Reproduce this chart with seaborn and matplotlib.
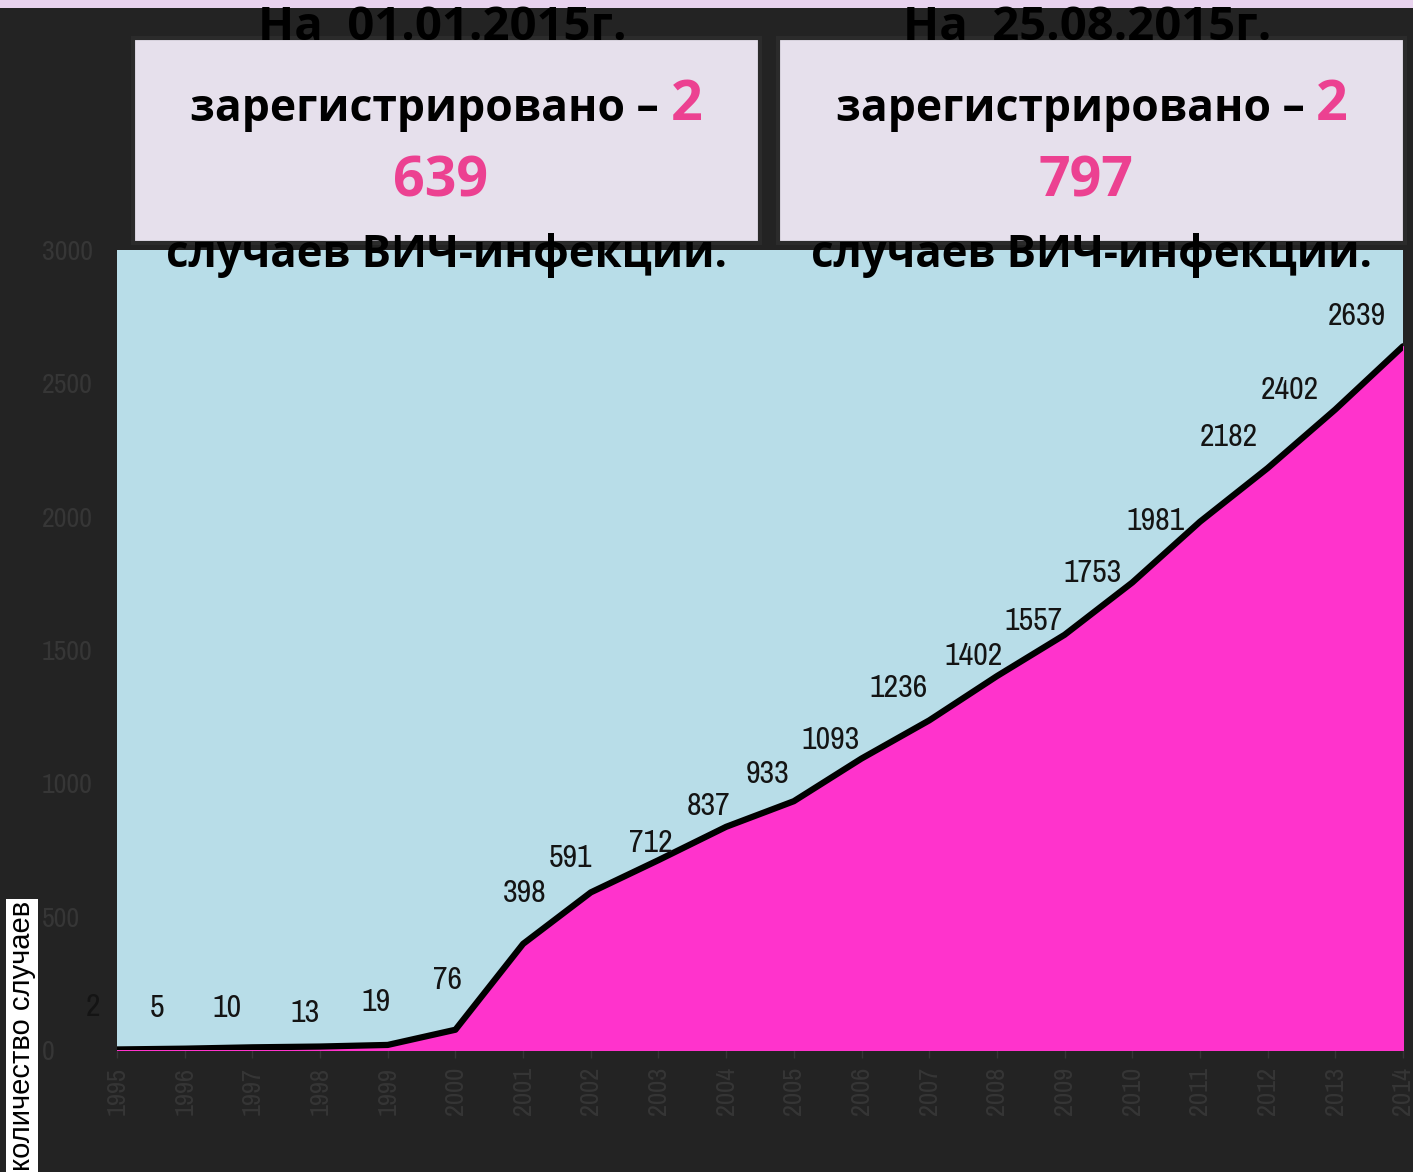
import numpy as np
import pandas as pd
import matplotlib
matplotlib.use("Agg")
import matplotlib.pyplot as plt
from matplotlib import font_manager
from matplotlib.patches import Rectangle
import seaborn as sns

# Data
years = list(range(1995, 2015))
cases = [2, 5, 10, 13, 19, 76, 398, 591, 712, 837, 933, 1093, 1236, 1402,
         1557, 1753, 1981, 2182, 2402, 2639]
y_ticks = [0, 500, 1000, 1500, 2000, 2500, 3000]
y_label = "количество случаев"

box_dates = ["На  01.01.2015г.", "На  25.08.2015г."]
box_totals = ["2 639", "2 797"]
box_reg = "зарегистрировано – "
box_tail = "случаев ВИЧ-инфекции."

# label offsets (pixels) relative to each point
label_dx = [-24, -28, -25, -15, -12, -8, 2, -20, -8, -18, -26, -31, -31, -23,
            -31, -40, -44, -39, -46, -46]
label_dy = [42, 41, 39, 34, 43, 50, 51, 34, 17, 21, 27, 19, 32, 20,
            14, 10, 1, 31, 19, 30]

BG = "#232323"
PLOT_BG = "#B8DDE8"
FILL = "#FF33CC"
PINK = "#EC4191"
BOX = "#E6E0EC"

W, H = 1413, 1172

available = sorted({f.name for f in font_manager.fontManager.ttflist})
narrow = next((n for n in available if "Narrow" in n or "Condensed" in n), None)
if narrow is None:
    narrow = "Liberation Sans"
    lab_size, tick_size = 20, 17
else:
    lab_size, tick_size = 23, 20

sns.set_theme(style="white")
plt.rcParams["font.family"] = ["Liberation Sans", "DejaVu Sans"]

df = pd.DataFrame({"year": years, "cases": cases})

fig = plt.figure(figsize=(W / 100, H / 100), dpi=100, facecolor=BG)
ax = fig.add_axes([117 / W, 1 - 1050 / H, (1403 - 117) / W, (1050 - 250) / H])
ax.set_facecolor(PLOT_BG)

ax.fill_between(df["year"], 0, df["cases"], color=FILL, zorder=1)
sns.lineplot(data=df, x="year", y="cases", color="black", lw=4.5, ax=ax, zorder=3)

ax.set_xlim(1995, 2014)
ax.set_ylim(0, 3000)
ax.set_xticks(years)
ax.set_xticklabels([str(y) for y in years], rotation=90,
                   fontsize=tick_size - 1, family=narrow, color="#363636")
ax.set_yticks(y_ticks)
ax.set_yticklabels([str(t) for t in y_ticks], fontsize=tick_size,
                   family=narrow, color="#363636", ha="left")
ax.tick_params(axis="y", length=0, pad=54)
ax.tick_params(axis="x", length=6, width=1, color="#363636", pad=6, direction="out")
ax.tick_params(axis="x", bottom=True)
ax.set_xlabel("")
ax.set_ylabel("")
for s in ax.spines.values():
    s.set_visible(False)

for yr, v, dx, dy in zip(years, cases, label_dx, label_dy):
    ax.annotate(str(v), (yr, v), xytext=(dx, dy), textcoords="offset pixels",
                ha="center", va="center", fontsize=lab_size,
                family=narrow, color="#141414", annotation_clip=False, zorder=5)

# top strip
fig.add_artist(Rectangle((0, 1 - 8 / H), 1, 8 / H, transform=fig.transFigure,
                         facecolor="#E8D3EE", edgecolor="none", zorder=1))

# y label on white strip
fig.text(22 / W, 1 - 1036 / H, y_label, rotation=90, ha="center", va="center",
         fontsize=21, color="black",
         bbox=dict(facecolor="white", edgecolor="none", pad=1.5))

# info boxes
title_font = ["Open Sans", "DejaVu Sans"]
fsz = 32
for i, (date, total) in enumerate(zip(box_dates, box_totals)):
    x0 = [133, 778][i]
    x1 = [760, 1405][i]
    fig.add_artist(Rectangle((x0 / W, 1 - 243 / H), (x1 - x0) / W, (243 - 38) / H,
                             transform=fig.transFigure, facecolor=BOX,
                             edgecolor="#2b2b2b", lw=3, zorder=2))
    cx = (x0 + x1) / 2 / W
    head, tail = total.split(" ")
    fig.text(cx - 4 / W, 1 - 28 / H, date, ha="center", va="center", fontsize=fsz + 2,
             family=title_font, weight="bold", color="black", zorder=4)
    t1 = fig.text(cx, 1 - 110 / H, box_reg, ha="left", va="center", fontsize=fsz,
                  family=title_font, weight="bold", color="black", zorder=4)
    t2 = fig.text(cx, 1 - 106 / H, head, ha="left", va="center", fontsize=fsz + 8,
                  family=title_font, weight="bold", color=PINK, zorder=4)
    fig.canvas.draw()
    r = fig.canvas.get_renderer()
    w1 = t1.get_window_extent(r).width
    w2 = t2.get_window_extent(r).width
    start = (x0 + x1) / 2 - (w1 + w2) / 2
    t1.set_x(start / W)
    t2.set_x((start + w1) / W)
    fig.text(cx - 6 / W, 1 - 182 / H, tail, ha="center", va="center", fontsize=fsz + 8,
             family=title_font, weight="bold", color=PINK, zorder=4)
    fig.text(cx, 1 - 255 / H, box_tail, ha="center", va="center", fontsize=fsz - 0.5,
             family=title_font, weight="bold", color="black", zorder=4)

fig.savefig("out.png", dpi=100, facecolor=BG)
